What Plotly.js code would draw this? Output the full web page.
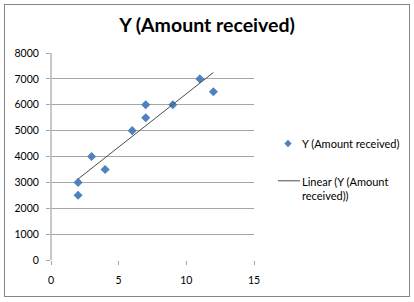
<!DOCTYPE html>
<html>
<head>
<meta charset="utf-8">
<script src="https://cdn.plot.ly/plotly-3.0.1.min.js"></script>
<style>
html,body{margin:0;padding:0;background:#fff;}
#chart{width:414px;height:302px;}
</style>
</head>
<body>
<div id="chart"></div>
<script>
// Data
const xValues = [2, 2, 3, 4, 6, 7, 7, 9, 11, 12];
const yValues = [3000, 2500, 4000, 3500, 5000, 6000, 5500, 6000, 7000, 6500];
const seriesName = "Y (Amount received)";
const trendName = "Linear (Y (Amount<br>received))";
const chartTitle = "Y (Amount received)";
const xTicks = [0, 5, 10, 15];
const yTicks = [0, 1000, 2000, 3000, 4000, 5000, 6000, 7000, 8000];

// Least-squares linear trendline (as Excel computes it)
const n = xValues.length;
const mx = xValues.reduce((a, b) => a + b, 0) / n;
const my = yValues.reduce((a, b) => a + b, 0) / n;
let sxy = 0, sxx = 0;
for (let i = 0; i < n; i++) {
  sxy += (xValues[i] - mx) * (yValues[i] - my);
  sxx += (xValues[i] - mx) * (xValues[i] - mx);
}
const slope = sxy / sxx;
const intercept = my - slope * mx;
const xMin = Math.min(...xValues), xMax = Math.max(...xValues);
const trendX = [xMin, xMax];
const trendY = trendX.map(x => intercept + slope * x);

const font = "Lato, 'Open Sans', sans-serif";

const data = [
  {
    x: xValues, y: yValues, name: seriesName, type: 'scatter', mode: 'markers',
    legendgroup: 'a',
    marker: {symbol: 'diamond', size: 7, color: '#4F81BD'}
  },
  {
    x: trendX, y: trendY, name: trendName, type: 'scatter', mode: 'lines',
    legendgroup: 'b',
    line: {color: '#4A4A4A', width: 1}
  }
];

const layout = {
  width: 414, height: 302,
  margin: {l: 51, r: 160, t: 53, b: 42},
  paper_bgcolor: '#ffffff', plot_bgcolor: '#ffffff',
  font: {family: font, size: 10.5, color: '#000'},
  title: {text: '<b>' + chartTitle + '</b>', font: {family: font, size: 19.5, color: '#000'},
          x: 0.5, xref: 'container', xanchor: 'center', y: 0.915, yref: 'container', yanchor: 'middle'},
  xaxis: {
    range: [0, 15], tickvals: xTicks, ticktext: xTicks.map(String),
    showgrid: false, zeroline: false, showline: false,
    ticks: 'outside', ticklen: 4, tickcolor: '#A6A6A6', tickwidth: 1,
    ticklabelstandoff: 6,
    tickfont: {family: font, size: 10.5, color: '#000'}, fixedrange: true
  },
  yaxis: {
    range: [0, 8000], tickvals: yTicks, ticktext: yTicks.map(String),
    showgrid: true, gridcolor: '#A6A6A6', gridwidth: 1.2,
    zeroline: false, showline: false,
    ticks: 'outside', ticklen: 4, tickcolor: '#A6A6A6', tickwidth: 1,
    ticklabelstandoff: 5,
    tickfont: {family: font, size: 10.5, color: '#000'}, fixedrange: true
  },
  showlegend: true,
  legend: {
    xref: 'container', yref: 'container',
    x: 262 / 414, y: 1 - 129 / 302, xanchor: 'left', yanchor: 'top',
    font: {family: font, size: 11, color: '#000'},
    bgcolor: 'rgba(0,0,0,0)', borderwidth: 0,
    traceorder: 'grouped', tracegroupgap: 20, itemwidth: 30
  },
  shapes: [
    {type: 'line', xref: 'paper', yref: 'paper', x0: 0, x1: 0, y0: 0, y1: 1,
     line: {color: '#C8C8C8', width: 2}, layer: 'below'}
  ]
};

Plotly.newPlot('chart', data, layout, {displayModeBar: false, staticPlot: true}).then(() => {
  const svg = document.querySelector('#chart .main-svg');
  // Legend symbol adjustments: shift marker, shorter line aligned with first text line
  const pts = document.querySelectorAll('#chart .legend .legendpoints path');
  pts.forEach(p => {
    if (p.closest('.legendlines')) return;
    const t = p.getAttribute('transform') || '';
    p.setAttribute('transform', t + ' translate(6,0) scale(0.8)');
  });
  const lines = document.querySelectorAll('#chart .legend .legendlines path');
  lines.forEach(p => {
    p.setAttribute('d', 'M16,-8h22');
  });
  // Outer chart frame
  const ns = 'http://www.w3.org/2000/svg';
  const r = document.createElementNS(ns, 'rect');
  r.setAttribute('x', 4.5); r.setAttribute('y', 4.5);
  r.setAttribute('width', 405); r.setAttribute('height', 292);
  r.setAttribute('fill', 'none'); r.setAttribute('stroke', '#868686'); r.setAttribute('stroke-width', 1);
  svg.appendChild(r);
});
</script>
</body>
</html>
